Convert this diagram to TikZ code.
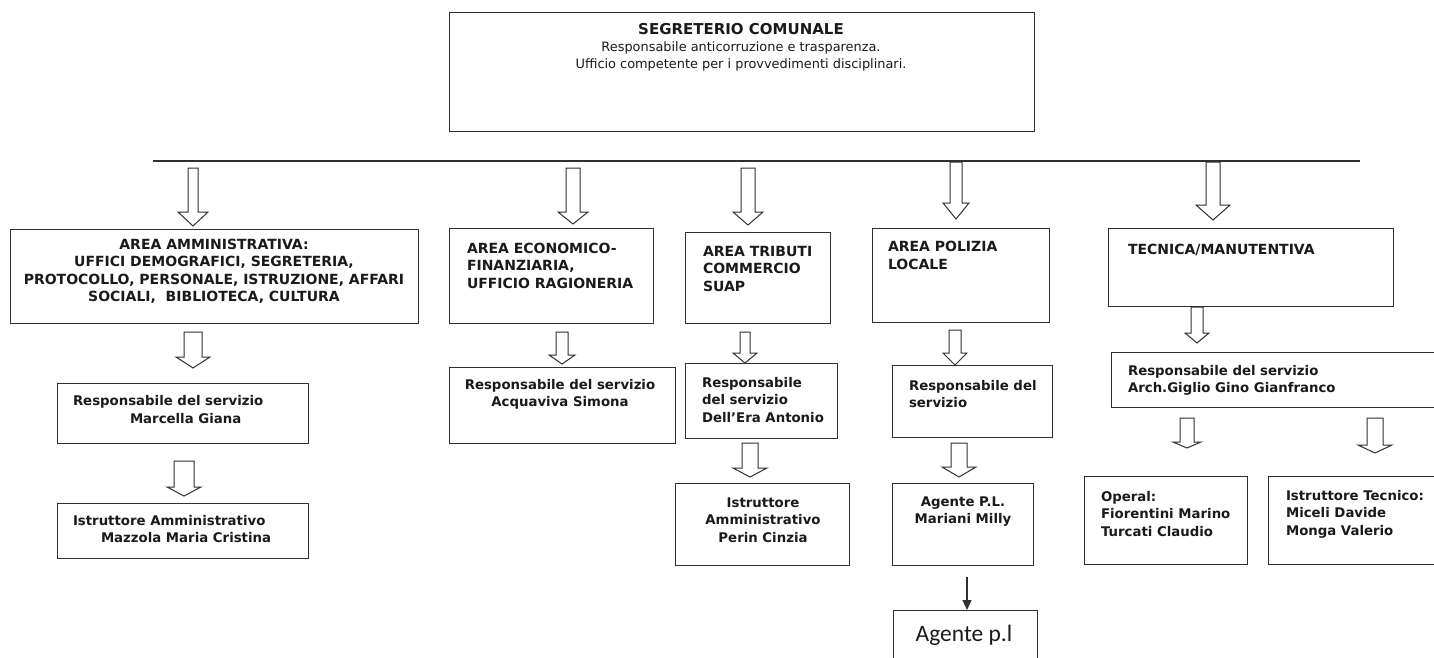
\documentclass[tikz,border=0pt]{standalone}
\usepackage{fontspec}
\setmainfont{DejaVu Sans}
\newfontfamily\carl{Carlito}
\usetikzlibrary{arrows.meta,calc}
\definecolor{linec}{HTML}{303030}
\definecolor{txtc}{HTML}{1A1A1A}
\tikzset{
  every node/.style={inner sep=0pt, outer sep=0pt},
  boxst/.style={draw=linec, line width=1pt, rectangle},
  tx/.style={font=\bfseries\fontsize{13.3}{17.5}\selectfont, text=txtc},
  txa/.style={font=\bfseries\fontsize{14}{17.5}\selectfont, text=txtc},
  txtop/.style={font=\fontsize{12.9}{17}\selectfont, text=txtc, align=center},
  barrowst/.style={draw=linec, line width=1pt, fill=white, line join=miter},
  thinarrow/.style={draw=linec, line width=1.1pt, -{Triangle[length=10pt,width=9pt]}},
}
\newcommand\bx[5]{\node[boxst, anchor=north west, minimum width=#4pt-#2pt, minimum height=#5pt-#3pt] (#1) at (#2,#3) {};}
\newcommand\barrow[6]{\draw[barrowst] ({#1-#5},#2) -- ({#1+#5},#2) -- ({#1+#5},#3) -- ({#1+#6},#3) -- (#1,#4) -- ({#1-#6},#3) -- ({#1-#5},#3) -- cycle;}
\begin{document}
\begin{tikzpicture}[x=1pt,y=-1pt]
\useasboundingbox (0,0) rectangle (1434,658);
\clip (0,0) rectangle (1434,658);
\fill[white] (0,0) rectangle (1434,658);

% boxes
\bx{top}{449}{13}{1034}{132}
\bx{amm}{10}{229}{418}{323}
\bx{econ}{449}{228}{653}{323}
\bx{trib}{685}{232}{830}{323}
\bx{pol}{872}{228}{1049}{322}
\bx{tec}{1108}{228}{1393}{306}
\bx{marc}{57}{383}{308}{443}
\bx{mazz}{57}{503}{308}{558}
\bx{acq}{449}{367}{675}{443}
\bx{dell}{685}{363}{837}{438}
\bx{perin}{675}{483}{849}{565}
\bx{polr}{892}{365}{1052}{437}
\bx{mar}{892}{483}{1033}{565}
\bx{agpl}{893}{610}{1037}{680}
\bx{arch}{1111}{352}{1460}{407}
\bx{oper}{1084}{476}{1247}{564}
\bx{istt}{1268}{476}{1460}{564}

% horizontal bus line
\coordinate (busL) at (153,161);
\coordinate (busR) at (1360,161);
\draw[draw=linec, line width=1.2pt] (busL) -- (busR);

% block arrows
\barrow{193}{168}{212}{226}{5}{15}
\barrow{573}{168}{212}{224}{7}{15}
\barrow{748}{168}{212}{225}{7}{15}
\barrow{956}{162}{203}{219}{6}{13}
\barrow{1213}{162}{205}{220}{7}{17}
\barrow{193}{332}{357}{368}{9}{17}
\barrow{184}{461}{487}{496}{10}{17}
\barrow{562}{332}{355}{364}{6}{13}
\barrow{745}{332}{353}{363}{5}{12}
\barrow{750}{443}{468}{477}{8}{17}
\barrow{955}{330}{353}{365}{6}{12}
\barrow{959}{443}{467}{477}{8}{17}
\barrow{1197}{307}{333}{343}{6}{12}
\barrow{1187}{418}{442}{448}{7}{14}
\barrow{1375}{418}{445}{453}{8}{17}

% thin arrow
\coordinate (pa) at (967,577);
\draw[thinarrow] (pa) -- (pa |- agpl.north);

% texts
\node[txtop] (ttop) at (741,47) {{\bfseries\fontsize{15}{17}\selectfont SEGRETERIO COMUNALE}\\Responsabile anticorruzione e trasparenza.\\Ufficio competente per i provvedimenti disciplinari.};
\node[txa, align=center] (tamm) at (214,271.5) {AREA AMMINISTRATIVA:\\UFFICI DEMOGRAFICI, SEGRETERIA,\\PROTOCOLLO, PERSONALE, ISTRUZIONE, AFFARI\\SOCIALI,\ \ BIBLIOTECA, CULTURA};
\node[txa, align=left, anchor=west] (tecon) at (467,265.5) {AREA ECONOMICO-\\FINANZIARIA,\\UFFICIO RAGIONERIA};
\node[txa, align=left, anchor=west] (ttrib) at (703,268.5) {AREA TRIBUTI\\COMMERCIO\\SUAP};
\node[txa, align=left, anchor=west] (tpol) at (888,255.5) {AREA POLIZIA\\LOCALE};
\node[txa, align=left, anchor=west] (ttec) at (1128,250) {TECNICA/MANUTENTIVA};
\node[tx, align=left, anchor=west] (tmarc) at (73,409.5) {Responsabile del servizio\\\hspace*{57pt}Marcella Giana};
\node[tx, align=left, anchor=west] (tmazz) at (73,529) {Istruttore Amministrativo\\\hspace*{28pt}Mazzola Maria Cristina};
\node[tx, align=center] (tacq) at (560,394.5) {Responsabile del servizio\\Acquaviva Simona};
\node[tx, align=left, anchor=west] (tdell) at (702,400) {Responsabile\\del servizio\\Dell’Era Antonio};
\node[tx, align=center] (tperin) at (763,520) {Istruttore\\Amministrativo\\Perin Cinzia};
\node[tx, align=left, anchor=west] (tpolr) at (909,394) {Responsabile del\\servizio};
\node[tx, align=center] (tmar) at (963,511.5) {Agente P.L.\\Mariani Milly};
\node[font=\carl\fontsize{23.5}{28}\selectfont, text=txtc] (tagpl) at (964,635) {Agente p.l};
\node[tx, align=left, anchor=west] (tarch) at (1128,380.5) {Responsabile del servizio\\Arch.Giglio Gino Gianfranco};
\node[tx, align=left, anchor=west] (toper) at (1101,514) {Operal:\\Fiorentini Marino\\Turcati Claudio};
\node[tx, align=left, anchor=west] (tistt) at (1286,514) {Istruttore Tecnico:\\Miceli Davide\\Monga Valerio};
\end{tikzpicture}
\end{document}
